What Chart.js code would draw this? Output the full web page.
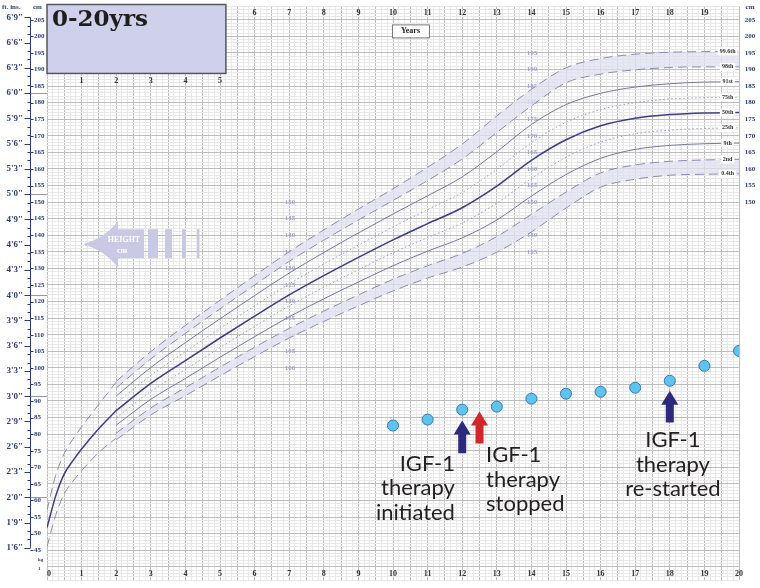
<!DOCTYPE html>
<html lang="en">
<head>
<meta charset="UTF-8">
<title>Height 0-20yrs</title>
<script src="https://cdn.jsdelivr.net/npm/chart.js@4.4.0/dist/chart.umd.min.js"></script>
<style>
body { margin: 0; background: #fff; }
#chartBox { width: 760px; height: 588px; }
</style>
</head>
<body>
<div id="chartBox"><canvas id="chart" width="760" height="588"></canvas></div>
<script>
// ages in years
const infantAges = [0, 0.25, 0.5, 0.75, 1, 1.5, 2];
const childAges = [2, 3, 4, 5, 6, 7, 8, 9, 10, 11, 12, 13, 14, 15, 16, 17, 18, 19, 20];

// 0-2 yrs (cm)
const infP996 = [57.0, 67.5, 74.2, 78.5, 82.2, 89.0, 95.7];
const infP50  = [51.8, 61.3, 68.0, 72.0, 75.5, 81.7, 87.1];
const infP04  = [46.0, 55.5, 62.0, 65.8, 69.0, 74.5, 78.8];

// 2-20 yrs centiles (cm)
const p996 = [95.9, 104.9, 112.8, 120.4, 127.8, 135.0, 141.6, 147.9, 154.0, 160.5, 167.5, 176.0, 184.0, 190.5, 193.3, 194.6, 195.2, 195.4, 195.5];
const p98  = [93.9, 102.7, 110.4, 117.8, 125.0, 132.1, 138.5, 144.6, 150.5, 156.5, 163.0, 171.0, 179.0, 186.0, 188.6, 189.9, 190.6, 190.8, 190.8];
const p91  = [91.5, 100.1, 107.6, 114.8, 121.8, 128.6, 134.8, 140.7, 146.4, 151.9, 157.6, 165.2, 173.4, 179.4, 182.8, 184.7, 185.7, 186.2, 186.3];
const p75  = [89.3, 97.7, 104.9, 111.9, 118.7, 125.3, 131.3, 137.0, 142.5, 147.7, 152.9, 159.9, 167.9, 174.1, 177.9, 180.0, 181.1, 181.5, 181.6];
const p50  = [87.1, 95.3, 102.2, 109.0, 115.6, 122.0, 127.8, 133.3, 138.6, 143.5, 148.3, 154.8, 162.6, 168.8, 173.0, 175.3, 176.4, 176.9, 177.0];
const p25  = [84.9, 92.9, 99.5, 106.1, 112.5, 118.7, 124.3, 129.6, 134.7, 139.3, 143.7, 149.7, 157.1, 163.5, 168.1, 170.6, 171.7, 172.2, 172.4];
const p9   = [82.7, 90.5, 96.8, 103.2, 109.4, 115.4, 120.8, 125.9, 130.8, 135.2, 139.2, 144.6, 151.8, 158.3, 163.2, 165.9, 167.1, 167.6, 167.8];
const p2   = [80.3, 87.9, 94.0, 100.2, 106.2, 111.9, 117.1, 122.0, 126.7, 130.8, 134.5, 139.6, 146.3, 153.0, 158.8, 161.2, 162.3, 162.7, 162.9];
const p04  = [78.3, 85.8, 91.6, 97.6, 103.4, 109.0, 114.0, 118.7, 123.2, 127.1, 130.4, 134.9, 141.0, 148.2, 154.5, 156.9, 158.1, 158.4, 158.5];
const centileNames = ['99.6th', '98th', '91st', '75th', '50th', '25th', '9th', '2nd', '0.4th'];

// patient measurements
const patientAges = [10, 11, 12, 13, 14, 15, 16, 17, 18, 19, 20];
const patientHeights = [82.6, 84.4, 87.4, 88.3, 90.7, 92.2, 92.8, 94.0, 96.1, 100.6, 105.1];

// axis labels
const bottomYears = [0, 1, 2, 3, 4, 5, 6, 7, 8, 9, 10, 11, 12, 13, 14, 15, 16, 17, 18, 19, 20];
const topYears = [6, 7, 8, 9, 10, 11, 12, 13, 14, 15, 16, 17, 18, 19];
const boxYears = [1, 2, 3, 4, 5];
const leftCm = [45, 50, 55, 60, 65, 70, 75, 80, 85, 90, 95, 100, 105, 110, 115, 120, 125, 130, 135, 140, 145, 150, 155, 160, 165, 170, 175, 180, 185, 190, 195, 200, 205];
const rightCm = [150, 155, 160, 165, 170, 175, 180, 185, 190, 195, 200, 205];
const innerCmA = [100, 105, 110, 115, 120, 125, 130, 135, 140, 145, 150];
const innerCmB = [135, 140, 145, 150, 155, 160, 165, 170, 175, 180, 185, 190, 195];
const ftInches = [18, 21, 24, 27, 30, 33, 36, 39, 42, 45, 48, 51, 54, 57, 60, 63, 66, 69, 72, 75, 78, 81];
const ftLabels = ['1\'6"', '1\'9"', '2\'0"', '2\'3"', '2\'6"', '2\'9"', '3\'0"', '3\'3"', '3\'6"', '3\'9"', '4\'0"', '4\'3"', '4\'6"', '4\'9"', '5\'0"', '5\'3"', '5\'6"', '5\'9"', '6\'0"', '6\'3"', '6\'6"', '6\'9"'];

// therapy notes
const notes = [
  {age: 12.0, tip: 84.1, base: 74.2, color: '#2c2a7c', textAge: 11.79, textCm: 69.0, align: 'right', lines: ['IGF-1', 'therapy', 'initiated']},
  {age: 12.5, tip: 86.8, base: 77.2, color: '#d1262b', textAge: 12.69, textCm: 71.5, align: 'left', lines: ['IGF-1', 'therapy', 'stopped']},
  {age: 18.0, tip: 93.1, base: 83.5, color: '#2c2a7c', textAge: 18.09, textCm: 76.0, align: 'center', lines: ['IGF-1', 'therapy', 're-started']}
];

function pts(ages, vals) {
  return ages.map((a, i) => ({x: a, y: vals[i]}));
}

const lineC = '#7676aa';
const dashC = '#8c8cae';
const bandC = 'rgba(224,224,241,0.75)';

function curve(vals, style, extra) {
  const base = {
    type: 'line',
    data: pts(childAges, vals),
    borderColor: lineC,
    borderWidth: 1,
    pointRadius: 0,
    cubicInterpolationMode: 'monotone',
    fill: false,
    order: 2
  };
  if (style === 'dash') { base.borderDash = [9, 5]; base.borderColor = dashC; }
  if (style === 'dot') { base.borderDash = [1.5, 2.5]; base.borderColor = '#9a9ac4'; }
  return Object.assign(base, extra || {});
}

const datasets = [
  {
    type: 'line',
    data: pts(patientAges, patientHeights),
    showLine: false,
    pointRadius: 5.5,
    pointBackgroundColor: '#5fc3ee',
    pointBorderColor: '#2f7cb8',
    pointBorderWidth: 1,
    order: 0
  },
  curve(p996, 'dash'),
  curve(p98, 'dash', {fill: '-1', backgroundColor: bandC}),
  curve(p91, 'solid'),
  curve(p75, 'dot'),
  curve(p50, 'solid', {borderColor: '#3c3c8c', borderWidth: 1.5}),
  curve(p25, 'dot'),
  curve(p9, 'solid'),
  curve(p2, 'dash'),
  curve(p04, 'dash', {fill: '-1', backgroundColor: bandC}),
  {type: 'line', data: pts(infantAges, infP996), borderColor: dashC, borderWidth: 1, borderDash: [9, 5], pointRadius: 0, cubicInterpolationMode: 'monotone', order: 2},
  {type: 'line', data: pts(infantAges, infP50), borderColor: '#3c3c8c', borderWidth: 1.5, pointRadius: 0, cubicInterpolationMode: 'monotone', order: 2},
  {type: 'line', data: pts(infantAges, infP04), borderColor: dashC, borderWidth: 1, borderDash: [9, 5], pointRadius: 0, cubicInterpolationMode: 'monotone', order: 2}
];

function near(v, step) {
  return Math.abs(v / step - Math.round(v / step)) < 1e-4;
}

function arrowUp(ctx, cx, tipY, baseY, color) {
  ctx.fillStyle = color;
  ctx.beginPath();
  ctx.moveTo(cx, tipY);
  ctx.lineTo(cx + 8.5, tipY + 14);
  ctx.lineTo(cx + 4, tipY + 14);
  ctx.lineTo(cx + 4, baseY);
  ctx.lineTo(cx - 4, baseY);
  ctx.lineTo(cx - 4, tipY + 14);
  ctx.lineTo(cx - 8.5, tipY + 14);
  ctx.closePath();
  ctx.fill();
}

const decor = {
  id: 'decor',
  beforeDatasetsDraw(chart) {
    const {ctx, chartArea: a, scales: {x, y}} = chart;
    ctx.save();

    // faint cm numbers inside the grid
    ctx.font = 'bold 7px "Liberation Serif"';
    ctx.fillStyle = '#a0a0cc';
    ctx.textAlign = 'center';
    ctx.textBaseline = 'middle';
    innerCmA.forEach(v => ctx.fillText(v, x.getPixelForValue(7.02), y.getPixelForValue(v)));
    innerCmB.forEach(v => ctx.fillText(v, x.getPixelForValue(14.02), y.getPixelForValue(v)));

    // HEIGHT cm arrow
    const hx = x.getPixelForValue(1.04), hy = y.getPixelForValue(137.3);
    ctx.fillStyle = '#c9c9e6';
    ctx.beginPath();
    ctx.moveTo(hx, hy);
    ctx.quadraticCurveTo(hx + 22, hy - 6, hx + 35, hy - 23);
    ctx.lineTo(hx + 35, hy - 15);
    ctx.lineTo(hx + 61, hy - 15);
    ctx.lineTo(hx + 61, hy + 14);
    ctx.lineTo(hx + 35, hy + 14);
    ctx.lineTo(hx + 35, hy + 23);
    ctx.quadraticCurveTo(hx + 22, hy + 6, hx, hy);
    ctx.fill();
    [[65, 10], [82, 7], [99, 4], [114, 2.5]].forEach(b => ctx.fillRect(hx + b[0], hy - 15, b[1], 29));
    ctx.fillStyle = '#ffffff';
    ctx.font = 'bold 8px "Liberation Serif"';
    ctx.fillText('HEIGHT', hx + 41, hy - 4);
    ctx.fillText('cm', hx + 39, hy + 7);

    // title box
    const bx1 = a.left, bx2 = x.getPixelForValue(5.17);
    const by1 = a.top - 2, by2 = y.getPixelForValue(188.8);
    ctx.fillStyle = '#cfd0e9';
    ctx.fillRect(bx1, by1, bx2 - bx1, by2 - by1);
    ctx.strokeStyle = '#55555f';
    ctx.lineWidth = 1.5;
    ctx.strokeRect(bx1, by1, bx2 - bx1, by2 - by1);
    ctx.fillStyle = '#1e1e1e';
    ctx.font = 'bold 23px "DejaVu Serif"';
    ctx.textAlign = 'left';
    ctx.textBaseline = 'alphabetic';
    ctx.fillText('0-20yrs', bx1 + 5, by1 + 21);

    // Years box
    const yx1 = x.getPixelForValue(9.97), yx2 = x.getPixelForValue(11.04);
    const yy = y.getPixelForValue(203.6);
    ctx.fillStyle = '#ffffff';
    ctx.fillRect(yx1, yy, yx2 - yx1, 13);
    ctx.strokeStyle = '#777';
    ctx.lineWidth = 1;
    ctx.strokeRect(yx1 + 0.5, yy + 0.5, yx2 - yx1, 13);
    ctx.fillStyle = '#222';
    ctx.font = 'bold 8px "Liberation Serif"';
    ctx.textAlign = 'center';
    ctx.textBaseline = 'middle';
    ctx.fillText('Years', (yx1 + yx2) / 2, yy + 7);
    ctx.restore();
  },
  afterDatasetsDraw(chart) {
    const {ctx, chartArea: a, scales: {x, y}} = chart;
    ctx.save();

    // centile names at right end
    const ends = [p996, p98, p91, p75, p50, p25, p9, p2, p04];
    ctx.font = 'bold 6px "Liberation Serif"';
    ctx.textAlign = 'center';
    ctx.textBaseline = 'middle';
    centileNames.forEach((n, i) => {
      const px = x.getPixelForValue(19.67), py = y.getPixelForValue(ends[i][ends[i].length - 1]);
      const w = ctx.measureText(n).width + 4;
      ctx.fillStyle = '#ffffff';
      ctx.fillRect(px - w / 2, py - 4, w, 8);
      ctx.fillStyle = '#333';
      ctx.fillText(n, px, py);
    });

    // year numbers
    ctx.font = 'bold 8px "Liberation Serif"';
    ctx.fillStyle = '#333';
    bottomYears.forEach(v => ctx.fillText(v, x.getPixelForValue(v) + (v === 0 ? 2 : 0), a.bottom - 6));
    topYears.forEach(v => ctx.fillText(v, x.getPixelForValue(v), a.top + 6));
    boxYears.forEach(v => ctx.fillText(v, x.getPixelForValue(v), y.getPixelForValue(186.4)));

    // left ruler: feet/inches and cm
    const navy = '#2b3a7c';
    const rx = 30;
    ctx.strokeStyle = navy;
    ctx.lineWidth = 1;
    ctx.beginPath();
    ctx.moveTo(rx + 0.5, y.getPixelForValue(18 * 2.54));
    ctx.lineTo(rx + 0.5, y.getPixelForValue(81 * 2.54));
    for (let inch = 18; inch <= 81; inch++) {
      const py = Math.round(y.getPixelForValue(inch * 2.54)) + 0.5;
      const len = inch % 3 === 0 ? 6 : 3;
      ctx.moveTo(rx + 0.5 - len, py);
      ctx.lineTo(rx + 0.5, py);
    }
    leftCm.forEach(v => {
      const py = Math.round(y.getPixelForValue(v)) + 0.5;
      ctx.moveTo(rx + 0.5, py);
      ctx.lineTo(rx + 3.5, py);
    });
    ctx.stroke();
    ctx.strokeStyle = '#9a9a9a';
    ctx.beginPath();
    ftInches.forEach(inch => {
      if (inch % 12 === 0) {
        const py = Math.round(y.getPixelForValue(inch * 2.54)) + 0.5;
        ctx.moveTo(rx + 1, py);
        ctx.lineTo(a.left, py);
      }
    });
    ctx.stroke();

    ctx.fillStyle = navy;
    ctx.font = 'bold 9px "Liberation Serif"';
    ctx.textAlign = 'right';
    ftInches.forEach((inch, i) => ctx.fillText(ftLabels[i], rx - 7, y.getPixelForValue(inch * 2.54)));
    ctx.font = 'bold 7px "Liberation Serif"';
    ctx.textAlign = 'left';
    leftCm.forEach(v => ctx.fillText(v, rx + 4, y.getPixelForValue(v)));
    ctx.fillText('ft. ins.', 2, 7);
    ctx.fillText('cm', 33, 7);
    ctx.font = 'bold 5px "Liberation Serif"';
    ctx.fillText('kg', 38, y.getPixelForValue(42.2));
    ctx.fillText('1', 38, y.getPixelForValue(39.5));

    // right cm labels
    ctx.font = 'bold 7px "Liberation Serif"';
    ctx.textAlign = 'center';
    rightCm.forEach(v => ctx.fillText(v, 750, y.getPixelForValue(v)));
    ctx.fillText('cm', 750, 7);

    // therapy arrows and notes
    notes.forEach(n => {
      arrowUp(ctx, x.getPixelForValue(n.age), y.getPixelForValue(n.tip), y.getPixelForValue(n.base), n.color);
      ctx.fillStyle = '#231f20';
      ctx.font = '22px Lato';
      ctx.textAlign = n.align;
      ctx.textBaseline = 'alphabetic';
      const tx = x.getPixelForValue(n.textAge), ty = y.getPixelForValue(n.textCm);
      n.lines.forEach((t, k) => ctx.fillText(t, tx, ty + k * 24.5));
    });
    ctx.restore();
  }
};

new Chart(document.getElementById('chart'), {
  type: 'line',
  data: {datasets: datasets},
  options: {
    responsive: false,
    animation: false,
    devicePixelRatio: 1,
    layout: {padding: {left: 47, right: 21, top: 5, bottom: 8}},
    plugins: {legend: {display: false}, tooltip: {enabled: false}},
    scales: {
      x: {
        type: 'linear', min: 0, max: 20,
        ticks: {display: false, maxTicksLimit: 1000},
        // two-month rulings
        afterBuildTicks: s => { s.ticks = Array.from({length: 121}, (_, k) => ({value: k / 6})); },
        grid: {drawTicks: false, color: c => near(c.tick.value, 0.5) ? '#bdbdbd' : '#e8e8e8'},
        border: {display: false}
      },
      y: {
        type: 'linear', min: 36, max: 209,
        ticks: {display: false, stepSize: 1, maxTicksLimit: 1000},
        grid: {drawTicks: false, color: c => near(c.tick.value, 5) ? '#bdbdbd' : '#e8e8e8'},
        border: {display: false}
      }
    }
  },
  plugins: [decor]
});
</script>
</body>
</html>
